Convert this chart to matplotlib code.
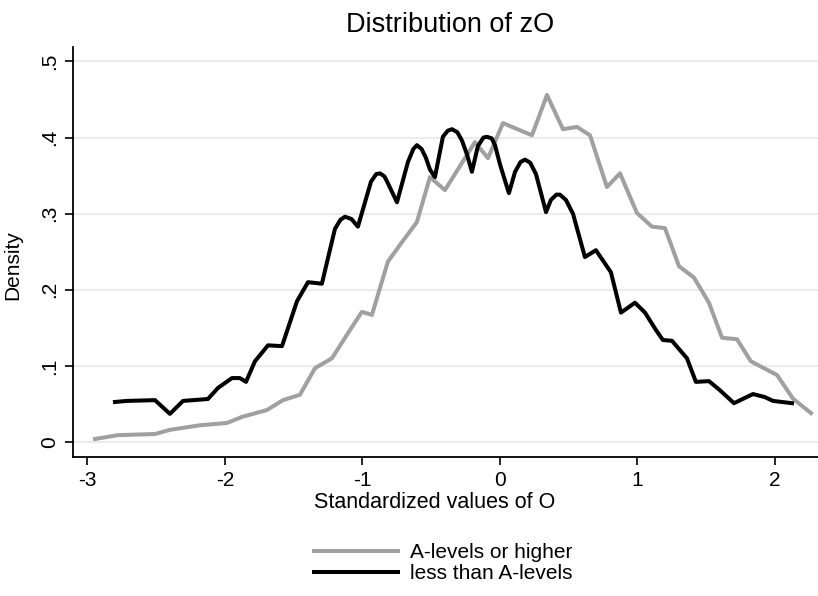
import numpy as np
import matplotlib
matplotlib.use("Agg")
import matplotlib.pyplot as plt

plt.rcParams['font.family'] = ['Liberation Sans Narrow', 'Liberation Sans', 'DejaVu Sans']

# A-levels or higher (grey)
x_high = [-2.945, -2.778, -2.509, -2.4, -2.182, -1.985, -1.876, -1.695, -1.578, -1.455,
          -1.345, -1.222, -1.091, -1.004, -0.931, -0.815, -0.727, -0.604, -0.509, -0.4,
          -0.182, -0.087, 0.022, 0.233, 0.342, 0.458, 0.56, 0.655, 0.778, 0.873,
          0.996, 1.105, 1.2, 1.302, 1.411, 1.52, 1.615, 1.724, 1.825, 2.015,
          2.131, 2.262]
y_high = [0.004, 0.009, 0.0105, 0.016, 0.022, 0.025, 0.033, 0.042, 0.055, 0.062,
          0.097, 0.110, 0.147, 0.171, 0.167, 0.237, 0.259, 0.289, 0.348, 0.331,
          0.394, 0.373, 0.419, 0.403, 0.456, 0.411, 0.414, 0.403, 0.335, 0.353,
          0.301, 0.283, 0.281, 0.231, 0.216, 0.183, 0.137, 0.135, 0.106, 0.088,
          0.057, 0.038]

# less than A-levels (black)
x_low = [-2.8, -2.713, -2.509, -2.4, -2.305, -2.124, -2.051, -1.949, -1.891, -1.847,
         -1.782, -1.687, -1.585, -1.476, -1.396, -1.295, -1.2, -1.16, -1.127, -1.08,
         -1.033, -0.938, -0.9, -0.873, -0.84, -0.815, -0.749, -0.669, -0.63, -0.604,
         -0.57, -0.54, -0.509, -0.473, -0.415, -0.38, -0.349, -0.31, -0.276, -0.24,
         -0.204, -0.16, -0.12, -0.095, -0.06, -0.036, 0.0, 0.065, 0.11, 0.15,
         0.182, 0.22, 0.262, 0.335, 0.37, 0.41, 0.436, 0.48, 0.531, 0.618,
         0.698, 0.807, 0.88, 0.982, 1.055, 1.135, 1.185, 1.251, 1.36, 1.425,
         1.52, 1.6, 1.702, 1.84, 1.927, 1.985, 2.124]
y_low = [0.0526, 0.054, 0.055, 0.037, 0.054, 0.0565, 0.071, 0.084, 0.084, 0.079,
         0.106, 0.127, 0.126, 0.185, 0.210, 0.208, 0.280, 0.292, 0.296, 0.293,
         0.283, 0.342, 0.352, 0.353, 0.349, 0.340, 0.315, 0.368, 0.385, 0.390,
         0.385, 0.374, 0.358, 0.348, 0.401, 0.409, 0.411, 0.407, 0.396, 0.378,
         0.355, 0.389, 0.400, 0.401, 0.399, 0.390, 0.365, 0.327, 0.355, 0.368,
         0.371, 0.367, 0.352, 0.302, 0.318, 0.325, 0.325, 0.318, 0.300, 0.243,
         0.252, 0.223, 0.170, 0.183, 0.170, 0.147, 0.134, 0.133, 0.110, 0.079,
         0.080, 0.068, 0.051, 0.063, 0.059, 0.054, 0.051]

x_ticks = [-3, -2, -1, 0, 1, 2]
y_ticks = [0, 0.1, 0.2, 0.3, 0.4, 0.5]
y_ticklabels = ["0", ".1", ".2", ".3", ".4", ".5"]

fig = plt.figure(figsize=(8.18, 5.96), dpi=100)
ax = fig.add_axes([73/818, 139/596, 745/818, 410/596])

ax.plot(x_high, y_high, color="#a0a0a0", lw=2.9, label="A-levels or higher")
ax.plot(x_low, y_low, color="black", lw=2.9, label="less than A-levels")

ax.set_xlim(-3.105, 2.313)
ax.set_ylim(-0.0197, 0.519)

ax.set_xticks(x_ticks)
ax.set_xticklabels([str(t) for t in x_ticks], fontsize=15)
ax.set_yticks(y_ticks)
ax.set_yticklabels(y_ticklabels, fontsize=15, rotation=90, va="center")
ax.tick_params(length=6, width=1.2, pad=4)

ax.grid(axis="y", color="#e8e8e8", lw=1.2)
ax.grid(axis="x", visible=False)
ax.set_axisbelow(True)

for s in ["top", "right"]:
    ax.spines[s].set_visible(False)
for s in ["left", "bottom"]:
    ax.spines[s].set_linewidth(1.3)

ax.set_xlabel("Standardized values of O", fontsize=15.5)
ax.xaxis.set_label_coords(0.486, -0.085)
ax.set_ylabel("Density", fontsize=15)
ax.yaxis.set_label_coords(-0.068, 0.468)

fig.text(0.55, 0.946, "Distribution of zO", fontsize=19.5, family="Liberation Sans",
         ha="center", va="baseline")

fig.legend(loc="center", bbox_to_anchor=(0.542, 0.055), frameon=False, fontsize=15,
           handlelength=4.0, handletextpad=0.58, labelspacing=0.1, borderpad=0)

fig.savefig("out.png", dpi=100)
